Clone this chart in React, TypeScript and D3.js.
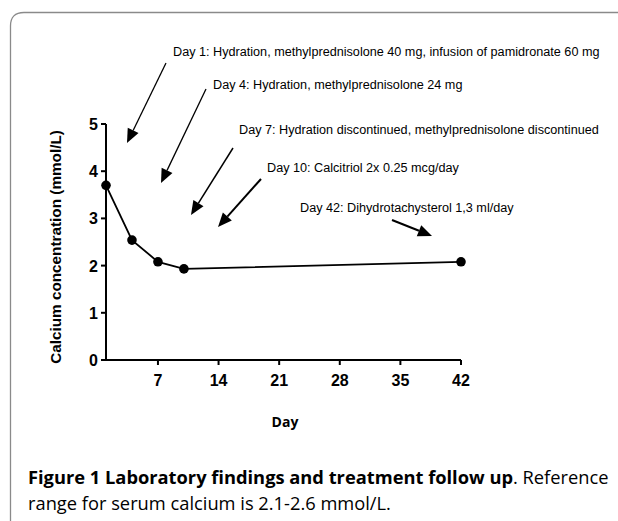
import React from "react";
import * as d3 from "d3";

const days = [1, 4, 7, 10, 42];
const calcium = [3.7, 2.54, 2.08, 1.93, 2.08];
const xTicks = [7, 14, 21, 28, 35, 42];
const yTicks = [0, 1, 2, 3, 4, 5];
const annotations = [
  "Day 1: Hydration, methylprednisolone 40 mg, infusion of pamidronate 60 mg",
  "Day 4: Hydration, methylprednisolone 24 mg",
  "Day 7: Hydration discontinued, methylprednisolone discontinued",
  "Day 10: Calcitriol 2x 0.25 mcg/day",
  "Day 42: Dihydrotachysterol 1,3 ml/day",
];
const yLabel = "Calcium concentration (mmol/L)";
const xLabel = "Day";
const captionBold = "Figure 1 Laboratory findings and treatment follow up";
const captionRest = ". Reference";
const captionLine2 = "range for serum calcium is 2.1-2.6 mmol/L.";

const annPos = [
  { tx: 173, ty: 56, x1: 166, y1: 63, x2: 127, y2: 143, w: 1.3 },
  { tx: 213, ty: 89, x1: 206, y1: 89, x2: 161, y2: 183, w: 1.3 },
  { tx: 239, ty: 134, x1: 233, y1: 148, x2: 191, y2: 215, w: 1.5 },
  { tx: 267, ty: 172, x1: 261, y1: 179, x2: 218, y2: 227, w: 2 },
  { tx: 300, ty: 212, x1: 392, y1: 220, x2: 432, y2: 236, w: 2 },
];

function Arrow({ x1, y1, x2, y2, w }: any) {
  const ang = Math.atan2(y2 - y1, x2 - x1);
  const L = 14, W = 6;
  const bx = x2 - L * Math.cos(ang), by = y2 - L * Math.sin(ang);
  const px = -Math.sin(ang) * W, py = Math.cos(ang) * W;
  return (
    <g>
      <line x1={x1} y1={y1} x2={bx} y2={by} stroke="#000" strokeWidth={w} />
      <polygon points={`${x2},${y2} ${bx + px},${by + py} ${bx - px},${by - py}`} fill="#000" />
    </g>
  );
}

export default function App() {
  const x = d3.scaleLinear().domain([1, 42]).range([106, 461]);
  const y = d3.scaleLinear().domain([0, 5]).range([360, 124]);
  const line = d3.line<number>().x((_, i) => x(days[i])).y((d) => y(d));
  const font = "'Liberation Sans', Arial, sans-serif";
  const cap = "'Open Sans', sans-serif";
  return (
    <svg width={618} height={521} style={{ position: "absolute", left: 0, top: 0 }}>
      <rect width={618} height={521} fill="#fff" />
      <path d="M10.5,540 L10.5,26 Q10.5,12.5 24,12.5 L640,12.5" fill="none" stroke="#8a8a8a" strokeWidth={1.3} />
      {/* axes */}
      <line x1={x(1)} y1={y(0)} x2={x(42)} y2={y(0)} stroke="#000" strokeWidth={2} />
      <line x1={x(1)} y1={y(0)} x2={x(1)} y2={y(5)} stroke="#000" strokeWidth={2} />
      {yTicks.map((t) => (
        <g key={"y" + t}>
          <line x1={x(1) - 5} x2={x(1)} y1={y(t)} y2={y(t)} stroke="#000" strokeWidth={2} />
          <text x={x(1) - 8} y={y(t) + 6} textAnchor="end" fontFamily={font} fontWeight="bold" fontSize={16}>{t}</text>
        </g>
      ))}
      {xTicks.map((t) => (
        <g key={"x" + t}>
          <line x1={x(t)} x2={x(t)} y1={y(0)} y2={y(0) + 5} stroke="#000" strokeWidth={2} />
          <text x={x(t)} y={y(0) + 26} textAnchor="middle" fontFamily={font} fontWeight="bold" fontSize={16}>{t}</text>
        </g>
      ))}
      <text transform={`translate(61,${(y(0) + y(5)) / 2 + 5}) rotate(-90)`} textAnchor="middle" fontFamily={font} fontWeight="bold" fontSize={15.3}>{yLabel}</text>
      <text x={285} y={427} textAnchor="middle" fontFamily={cap} fontWeight="bold" fontSize={14}>{xLabel}</text>
      {/* data */}
      <path d={line(calcium) || ""} fill="none" stroke="#000" strokeWidth={1.8} />
      {calcium.map((c, i) => (
        <circle key={i} cx={x(days[i])} cy={y(c)} r={4.8} fill="#000" />
      ))}
      {/* annotations */}
      {annotations.map((a, i) => (
        <g key={"a" + i}>
          <text x={annPos[i].tx} y={annPos[i].ty} fontFamily={font} fontSize={12.65}>{a}</text>
          <Arrow {...annPos[i]} />
        </g>
      ))}
      {/* caption */}
      <text x={28} y={484} fontFamily={cap} fontSize={18.3}>
        <tspan fontWeight="bold">{captionBold}</tspan>
        <tspan>{captionRest}</tspan>
      </text>
      <text x={28} y={510} fontFamily={cap} fontSize={18.3}>{captionLine2}</text>
    </svg>
  );
}
